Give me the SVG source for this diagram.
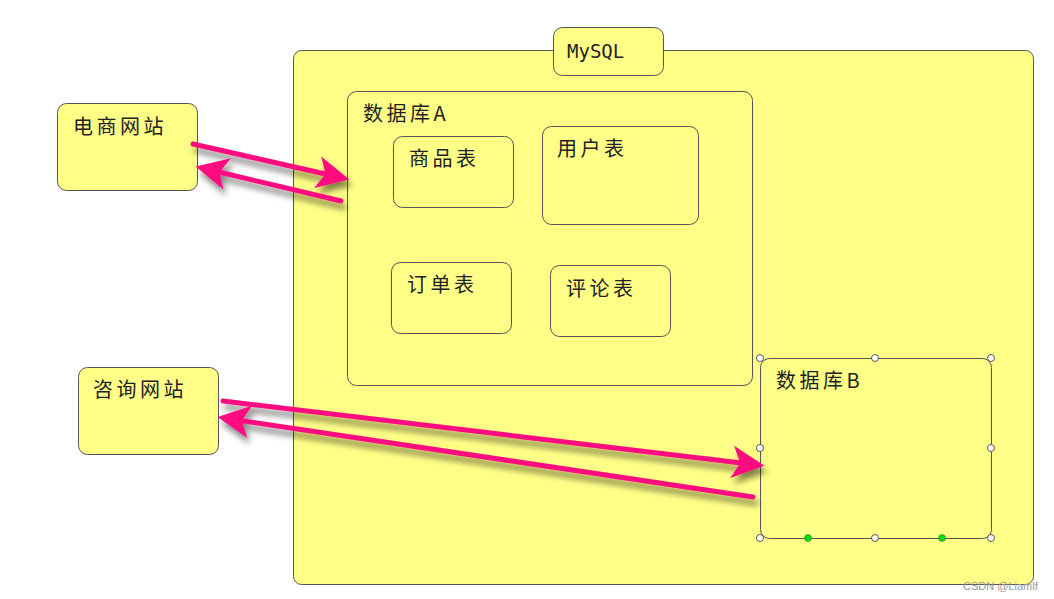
<svg xmlns="http://www.w3.org/2000/svg" width="1054" height="599" viewBox="0 0 1054 599">
<style>
.box{fill:#ffff88;stroke:#555;stroke-width:1}
.t{font-family:"Noto Sans CJK SC","Noto Sans",sans-serif;font-size:20px;fill:#222;letter-spacing:3.5px}
.m{font-family:"DejaVu Sans Mono","Liberation Mono",monospace;font-size:19px;fill:#222}
.a{stroke:#ff0a80;stroke-width:5;fill:none;stroke-linecap:round}
.h{fill:#fff;stroke:#555;stroke-width:1}
.g{fill:#00e000;stroke:#555;stroke-width:0.5}
</style>
<defs>
<marker id="ah" viewBox="0 0 10 10" refX="8" refY="5" markerWidth="6.5" markerHeight="6.5" markerUnits="strokeWidth" orient="auto"><path d="M0,0 L10,5 L0,10 L2.5,5 Z" fill="#ff0a80"/></marker>
<filter id="sh" x="-20%" y="-50%" width="140%" height="200%"><feGaussianBlur in="SourceAlpha" stdDeviation="3"/><feOffset dx="3" dy="6"/><feComponentTransfer><feFuncA type="linear" slope="0.5"/></feComponentTransfer><feMerge><feMergeNode/><feMergeNode in="SourceGraphic"/></feMerge></filter>
</defs>
<rect width="1054" height="599" fill="#fff"/>
<g id="mysql">
<rect class="box" x="293.5" y="50.5" width="740" height="534" rx="8"/>
<rect class="box" x="553.5" y="27.5" width="110" height="48" rx="9"/>
<text class="m" x="567" y="58">MySQL</text>
</g>
<g id="dbA">
<rect class="box" x="347.5" y="91.5" width="405" height="294" rx="9"/>
<text class="t" x="363" y="121">数据库A</text>
</g>
<g id="goods"><rect class="box" x="393.5" y="136.5" width="120" height="71" rx="9"/><text class="t" x="409" y="166">商品表</text></g>
<g id="users"><rect class="box" x="542.5" y="126.5" width="156" height="98" rx="9"/><text class="t" x="557" y="156">用户表</text></g>
<g id="orders"><rect class="box" x="391.5" y="262.5" width="120" height="71" rx="9"/><text class="t" x="407" y="292">订单表</text></g>
<g id="comments"><rect class="box" x="550.5" y="265.5" width="120" height="71" rx="9"/><text class="t" x="566" y="296">评论表</text></g>
<g id="dbB">
<rect class="box" x="760.5" y="358.5" width="231" height="180" rx="9"/>
<text class="t" x="776" y="388">数据库B</text>
<circle class="h" cx="760" cy="358" r="3.5"/><circle class="h" cx="875" cy="358" r="3.5"/><circle class="h" cx="991" cy="358" r="3.5"/>
<circle class="h" cx="760" cy="448" r="3.5"/><circle class="h" cx="991" cy="448" r="3.5"/>
<circle class="h" cx="760" cy="538" r="3.5"/><circle class="h" cx="875" cy="538" r="3.5"/><circle class="h" cx="991" cy="538" r="3.5"/>
<circle class="g" cx="808" cy="538" r="3.5"/><circle class="g" cx="942" cy="538" r="3.5"/>
</g>
<g id="shop"><rect class="box" x="57.5" y="103.5" width="140" height="87" rx="9"/><text class="t" x="73" y="134">电商网站</text></g>
<g id="consult"><rect class="box" x="78.5" y="367.5" width="140" height="87" rx="9"/><text class="t" x="93" y="397">咨询网站</text></g>
<g id="connectors" filter="url(#sh)">
<line class="a" x1="193" y1="144" x2="343" y2="178" marker-end="url(#ah)"/>
<line class="a" x1="341" y1="201" x2="202" y2="168" marker-end="url(#ah)"/>
<line class="a" x1="223" y1="401" x2="758" y2="465" marker-end="url(#ah)"/>
<line class="a" x1="753" y1="497" x2="224" y2="418" marker-end="url(#ah)"/>
</g>
<text x="963" y="590" font-family="Liberation Sans,Arial,sans-serif" font-size="11" fill="#999">CSDN @Liamlf</text>
</svg>
